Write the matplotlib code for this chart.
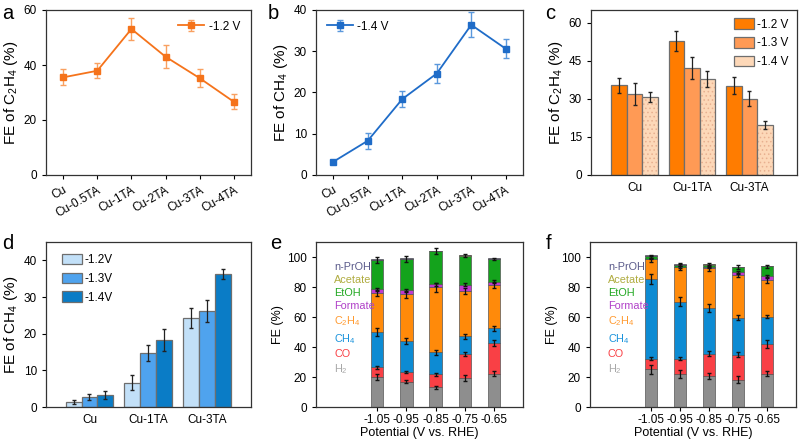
import numpy as np
import matplotlib
matplotlib.use('Agg')
import matplotlib.pyplot as plt
from matplotlib.patches import Patch

plt.rcParams['font.family'] = ['Liberation Sans', 'DejaVu Sans']
plt.rcParams['mathtext.fontset'] = 'custom'
plt.rcParams['mathtext.rm'] = 'Liberation Sans'
plt.rcParams['mathtext.it'] = 'Liberation Sans:italic'
plt.rcParams['mathtext.bf'] = 'Liberation Sans:bold'
plt.rcParams['font.size'] = 8.5
plt.rcParams['axes.linewidth'] = 0.9
plt.rcParams['axes.edgecolor'] = '#333333'
plt.rcParams['xtick.direction'] = 'out'
plt.rcParams['ytick.direction'] = 'out'
plt.rcParams['xtick.major.size'] = 3
plt.rcParams['ytick.major.size'] = 3
plt.rcParams['xtick.major.width'] = 0.8
plt.rcParams['ytick.major.width'] = 0.8
plt.rcParams['hatch.linewidth'] = 0.6

# ---- data ----
samples = ['Cu', 'Cu-0.5TA', 'Cu-1TA', 'Cu-2TA', 'Cu-3TA', 'Cu-4TA']
fe_c2h4_12 = [35.5, 37.9, 53.1, 43.0, 35.2, 26.6]
err_c2h4_12 = [2.9, 2.7, 4.1, 4.1, 3.3, 2.7]
fe_ch4_14 = [3.2, 8.3, 18.4, 24.6, 36.4, 30.6]
err_ch4_14 = [0.5, 2.0, 2.0, 2.2, 3.0, 2.3]

groups = ['Cu', 'Cu-1TA', 'Cu-3TA']
c_labels = ['-1.2 V', '-1.3 V', '-1.4 V']
c2h4_bars = [[35.4, 52.9, 35.2], [32.0, 42.3, 30.1], [30.8, 37.8, 19.7]]
c2h4_err = [[3.0, 4.0, 3.3], [4.4, 4.3, 3.0], [1.9, 3.3, 1.7]]
d_labels = ['-1.2V', '-1.3V', '-1.4V']
ch4_bars = [[1.4, 6.6, 24.3], [2.7, 14.8, 26.3], [3.3, 18.4, 36.3]]
ch4_err = [[0.5, 2.0, 2.7], [0.9, 2.2, 3.0], [1.0, 3.0, 1.3]]

potentials = [-1.05, -0.95, -0.85, -0.75, -0.65]
products = ['H$_2$', 'CO', 'CH$_4$', 'C$_2$H$_4$', 'Formate', 'EtOH', 'Acetate', 'n-PrOH']
# rows follow products, columns follow potentials
fe_e = [[20.0, 16.9, 13.3, 19.3, 22.2],
        [6.4, 6.4, 8.7, 16.0, 20.6],
        [23.7, 20.8, 14.4, 11.9, 9.7],
        [25.7, 31.1, 43.4, 30.0, 28.9],
        [2.7, 2.8, 2.0, 4.4, 2.2],
        [19.5, 20.7, 22.0, 19.3, 15.1],
        [0.2, 0.2, 0.2, 0.2, 0.2],
        [0.2, 0.2, 0.2, 0.2, 0.2]]
err_e = [[1.8, 1.0, 1.0, 1.8, 1.8],
         [1.2, 0.8, 1.0, 1.2, 2.0],
         [2.5, 1.8, 1.5, 1.8, 1.5],
         [2.0, 2.2, 3.0, 2.0, 2.0],
         [1.0, 1.0, 1.0, 1.0, 1.0],
         [1.8, 2.0, 2.0, 1.2, 0.8],
         [0.0, 0.0, 0.0, 0.0, 0.0],
         [0.0, 0.0, 0.0, 0.0, 0.0]]
fe_f = [[25.3, 22.0, 20.6, 18.2, 22.2],
        [6.9, 10.2, 14.9, 16.8, 19.7],
        [53.2, 38.1, 30.6, 24.6, 18.4],
        [13.3, 22.8, 26.4, 28.4, 24.4],
        [0.3, 0.4, 0.6, 1.8, 2.4],
        [1.6, 1.2, 1.8, 3.4, 6.7],
        [0.2, 0.2, 0.2, 0.2, 0.2],
        [0.2, 0.2, 0.2, 0.2, 0.2]]
err_f = [[3.0, 2.5, 1.8, 2.5, 1.8],
         [1.0, 1.0, 1.8, 1.5, 2.5],
         [3.5, 3.0, 2.5, 1.8, 1.2],
         [2.0, 2.0, 2.0, 1.5, 2.0],
         [0.5, 0.5, 0.5, 1.0, 1.0],
         [1.0, 1.0, 1.0, 1.5, 1.0],
         [0.0, 0.0, 0.0, 0.0, 0.0],
         [0.0, 0.0, 0.0, 0.0, 0.0]]

prod_colors = ['#8e8e8e', '#f94045', '#0d8bd3', '#ff8a0a', '#c038d0', '#14a31c', '#b9b53d', '#4f4f8c']
label_colors = ['#a8a8a8', '#f94045', '#1a93dc', '#ff9a30', '#b040c8', '#22a822', '#b0ac40', '#5a5a8a']

W, H = 799, 441
fig = plt.figure(figsize=(W / 100, H / 100), dpi=100)


def ax_px(left, top, right, bottom):
    return fig.add_axes([left / W, 1 - bottom / H, (right - left) / W, (bottom - top) / H])


edge = '#6e6e6e'

# ---- a ----
ax = ax_px(46, 10, 251, 175)
x = np.arange(len(samples))
ax.errorbar(x, fe_c2h4_12, yerr=err_c2h4_12, color='#f5731b', marker='s', ms=4,
            lw=1.3, ecolor='#f9a060', elinewidth=1, capsize=2, label='-1.2 V')
ax.set_xlim(-0.5, 5.5)
ax.set_ylim(0, 60)
ax.set_yticks([0, 20, 40, 60])
ax.set_xticks(x)
ax.set_xticklabels(samples, rotation=30, ha='right', rotation_mode='anchor')
ax.set_ylabel('FE of C$_2$H$_4$ (%)', fontsize=11, labelpad=3)
ax.legend(loc='upper right', frameon=False, fontsize=8.5, handlelength=2.2, handletextpad=0.4)

# ---- b ----
ax = ax_px(316, 10, 523, 175)
ax.errorbar(x, fe_ch4_14, yerr=err_ch4_14, color='#1f6cc8', marker='s', ms=4,
            lw=1.3, ecolor='#5a98dc', elinewidth=1, capsize=2, label='-1.4 V')
ax.set_xlim(-0.5, 5.5)
ax.set_ylim(0, 40)
ax.set_yticks([0, 10, 20, 30, 40])
ax.set_xticks(x)
ax.set_xticklabels(samples, rotation=30, ha='right', rotation_mode='anchor')
ax.set_ylabel('FE of CH$_4$ (%)', fontsize=11, labelpad=3)
ax.legend(loc='upper left', frameon=False, fontsize=8.5, handlelength=2.2, handletextpad=0.4)

# ---- c ----
ax = ax_px(591, 10, 797, 175)
g = np.arange(len(groups))
bw = 0.27
c_colors = ['#ff7c00', '#ff9a55', '#fdd8b8']
for i in range(3):
    pos = g + (i - 1) * bw
    if i == 2:
        ax.bar(pos, c2h4_bars[i], bw, color=c_colors[i], edgecolor='#e8b090', hatch='....', lw=0)
        ax.bar(pos, c2h4_bars[i], bw, fill=False, edgecolor=edge, lw=0.9)
    else:
        ax.bar(pos, c2h4_bars[i], bw, color=c_colors[i], edgecolor=edge, lw=0.9)
    ax.errorbar(pos, c2h4_bars[i], yerr=c2h4_err[i], fmt='none', ecolor='#222222',
                elinewidth=0.9, capsize=1.5)
ax.set_xlim(-0.76, 2.83)
ax.set_ylim(0, 65)
ax.set_yticks([0, 15, 30, 45, 60])
ax.set_xticks(g)
ax.set_xticklabels(groups)
ax.tick_params(axis='x', length=0, pad=5)
ax.set_ylabel('FE of C$_2$H$_4$ (%)', fontsize=11, labelpad=3)
handles = [Patch(facecolor=c_colors[i], edgecolor=edge, lw=0.9) for i in range(3)]
ax.legend(handles, c_labels, loc='upper right', frameon=False, fontsize=8.5,
          handlelength=1.7, handleheight=1.0, handletextpad=0.3, labelspacing=0.55,
          borderaxespad=0.3)

# ---- d ----
ax = ax_px(46, 242, 251, 407)
d_colors = ['#c2e0f8', '#4fa3ee', '#0a7cc6']
for i in range(3):
    pos = g + (i - 1) * bw
    ax.bar(pos, ch4_bars[i], bw, color=d_colors[i], edgecolor=edge, lw=0.9)
    ax.errorbar(pos, ch4_bars[i], yerr=ch4_err[i], fmt='none', ecolor='#222222',
                elinewidth=0.9, capsize=1.5)
ax.set_xlim(-0.74, 2.75)
ax.set_ylim(0, 45)
ax.set_yticks([0, 10, 20, 30, 40])
ax.set_xticks(g)
ax.set_xticklabels(groups)
ax.tick_params(axis='x', length=0, pad=5)
ax.set_ylabel('FE of CH$_4$ (%)', fontsize=11, labelpad=3)
handles = [Patch(facecolor=d_colors[i], edgecolor=edge, lw=0.9) for i in range(3)]
ax.legend(handles, d_labels, loc='upper left', frameon=False, fontsize=8.5,
          handlelength=1.7, handleheight=1.0, handletextpad=0.2, labelspacing=0.55,
          borderaxespad=0.6, bbox_to_anchor=(0.02, 1.0))


# ---- e, f ----
def stacked(ax, fe, err):
    bottom = np.zeros(len(potentials))
    for k in range(len(products)):
        vals = np.array(fe[k])
        ax.bar(potentials, vals, 0.042, bottom=bottom, color=prod_colors[k],
               edgecolor='#555555', lw=0.5)
        top = bottom + vals
        if k < 6:
            ax.errorbar(potentials, top, yerr=err[k], fmt='none', ecolor='#111111',
                        elinewidth=0.9, capsize=1.5)
        bottom = top
    ax.set_xlim(-1.26, -0.55)
    ax.set_ylim(0, 110)
    ax.set_yticks([0, 20, 40, 60, 80, 100])
    ax.set_xticks(potentials)
    ax.set_xticklabels(['%.2f' % p for p in potentials])
    ax.tick_params(axis='x', pad=2)
    ax.set_ylabel('FE (%)', fontsize=9, labelpad=2)
    ax.set_xlabel('Potential (V vs. RHE)', fontsize=9, labelpad=1)
    handles = [Patch(facecolor='none', edgecolor='none') for _ in products]
    ax.legend(handles[::-1], products[::-1], loc='upper left', frameon=False,
              fontsize=7.8, handlelength=0, handletextpad=0, labelspacing=0.3,
              bbox_to_anchor=(0.04, 0.94), labelcolor=label_colors[::-1])


ax = ax_px(316, 242, 523, 407)
stacked(ax, fe_e, err_e)
ax = ax_px(590, 242, 796, 407)
stacked(ax, fe_f, err_f)

# panel letters
for lab, px, py in [('a', 2, 19), ('b', 268, 19), ('c', 545, 19),
                    ('d', 2, 249), ('e', 270, 249), ('f', 546, 249)]:
    fig.text(px / W, 1 - py / H, lab, fontsize=14.5, ha='left', va='baseline')

fig.savefig('out.png', dpi=100)
